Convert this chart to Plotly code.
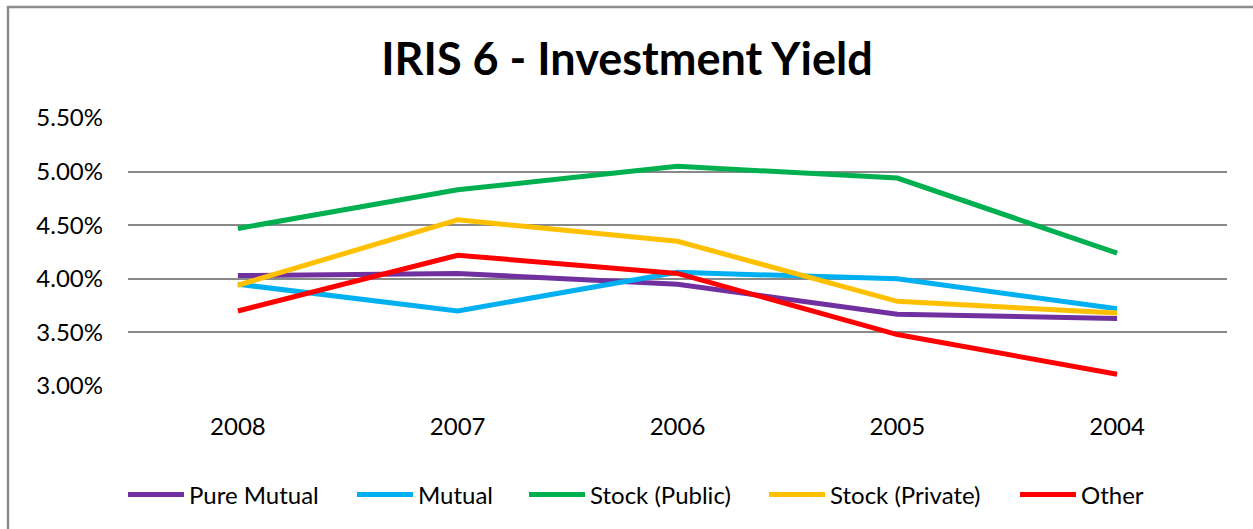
import plotly.graph_objects as go

years = ["2008", "2007", "2006", "2005", "2004"]
pure_mutual = [0.0403, 0.0405, 0.0395, 0.0367, 0.0363]
mutual = [0.0395, 0.0370, 0.0406, 0.0400, 0.0372]
stock_public = [0.0447, 0.0483, 0.0505, 0.0494, 0.0424]
stock_private = [0.0394, 0.0455, 0.0435, 0.0379, 0.0368]
other = [0.0370, 0.0422, 0.0405, 0.0348, 0.0311]

series = [
    ("Pure Mutual", pure_mutual, "#7030A0"),
    ("Mutual", mutual, "#00B0F0"),
    ("Stock (Public)", stock_public, "#00B050"),
    ("Stock (Private)", stock_private, "#FFC000"),
    ("Other", other, "#FF0000"),
]

FONT = "Lato, 'Open Sans', sans-serif"
W, H = 1253, 529
L, R, T, B = 128, 26, 118, 143
pw, ph = W - L - R, H - T - B

# left edge (px) of each legend entry's line sample in the reference
legend_starts = [129, 358, 530, 770, 1021]

fig = go.Figure()
legend_cfg = {}
for i, (name, vals, color) in enumerate(series):
    lid = "legend" if i == 0 else f"legend{i + 1}"
    fig.add_trace(go.Scatter(
        x=years, y=vals, name=name, mode="lines",
        line=dict(color=color, width=5), legend=lid,
    ))
    legend_cfg[lid] = dict(
        orientation="h", xref="container", yref="container",
        x=(legend_starts[i] - 6) / W, xanchor="left",
        y=1 - 495 / H, yanchor="middle",
        font=dict(family=FONT, size=24, color="#000000"),
        itemwidth=56, bgcolor="rgba(0,0,0,0)", borderwidth=0,
    )

def px_x(p):
    return (p - L) / pw

def px_y(p):
    return (H - B - p) / ph

fig.update_layout(
    width=W, height=H,
    margin=dict(l=L, r=R, t=T, b=B, autoexpand=False),
    paper_bgcolor="white", plot_bgcolor="white",
    font=dict(family=FONT, color="#000000", size=22),
    title=dict(text="<b>IRIS 6 - Investment Yield</b>", x=627 / W, xref="container",
               xanchor="center", y=1 - 59 / H, yref="container", yanchor="middle",
               font=dict(family=FONT, size=45, color="#000000")),
    showlegend=True,
    xaxis=dict(type="category", range=[-0.5, 4.5], showgrid=False, showline=False,
               ticks="", zeroline=False, automargin=False,
               tickfont=dict(family=FONT, size=24, color="#000000"),
               ticklabelstandoff=24, fixedrange=True),
    yaxis=dict(range=[0.03, 0.055], dtick=0.005, tick0=0.03, tickformat=".2%",
               showgrid=True, gridcolor="#898989", gridwidth=2,
               showline=False, ticks="", zeroline=False, automargin=False,
               tickfont=dict(family=FONT, size=24, color="#000000"),
               ticklabelstandoff=24, fixedrange=True),
    shapes=[dict(type="rect", xref="paper", yref="paper",
                 x0=px_x(8), x1=px_x(1258), y0=px_y(534), y1=px_y(7),
                 line=dict(color="#8C8C8C", width=2.5), fillcolor="rgba(0,0,0,0)",
                 layer="below")],
    **legend_cfg,
)

fig.write_html("out.html",
               config={"displayModeBar": False},
               post_script="document.body.style.margin='0';document.body.style.overflow='hidden';")
